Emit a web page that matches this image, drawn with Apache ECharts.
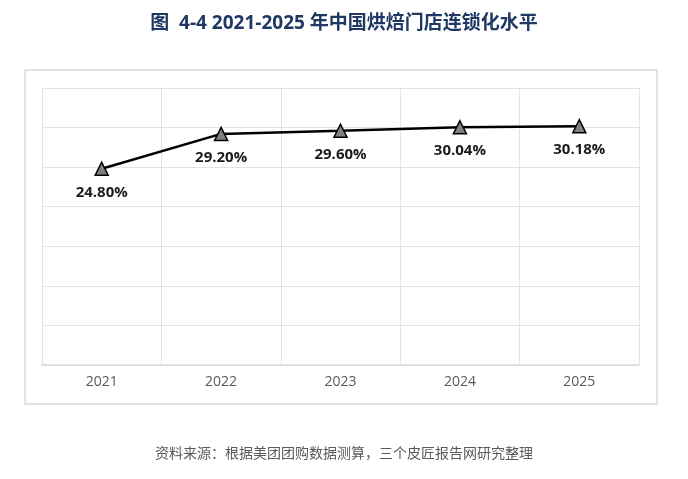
<!DOCTYPE html>
<html><head><meta charset="utf-8">
<script src="https://cdn.jsdelivr.net/npm/echarts@6/dist/echarts.min.js"></script>
<style>html,body{margin:0;padding:0;background:#fff}#c{width:688px;height:479px}</style>
</head><body><div id="c"></div>
<script>
const title = '图  4-4 2021-2025 年中国烘焙门店连锁化水平';
const source = '资料来源：根据美团团购数据测算，三个皮匠报告网研究整理';
const years = ['2021', '2022', '2023', '2024', '2025'];
const chainRate = [24.80, 29.20, 29.60, 30.04, 30.18];
const yMin = 0, yMax = 35, yStep = 5;

const chart = echarts.init(document.getElementById('c'));
chart.setOption({
  animation: false,
  title: {
    text: title, left: 'center', top: 9,
    textStyle: {fontFamily: '"Open Sans", "Noto Sans CJK SC"', fontSize: 19, fontWeight: 'bold', color: '#1f3864'}
  },
  graphic: [
    {type: 'rect', z: -10, shape: {x: 25, y: 70, width: 632, height: 334},
     style: {fill: '#fff', stroke: '#d9d9d9', lineWidth: 1.5}},
    {type: 'text', left: 'center', top: 446,
     style: {text: source, fontFamily: 'Noto Sans CJK SC', fontSize: 14, fill: '#595959'}}
  ],
  grid: {left: 42, right: 49, top: 88, bottom: 114, containLabel: false},
  xAxis: {
    type: 'category', data: years, boundaryGap: true,
    axisLine: {lineStyle: {color: '#d9d9d9', width: 1.5}},
    axisTick: {show: false},
    splitLine: {show: true, lineStyle: {color: '#e3e3e3'}},
    axisLabel: {fontFamily: '"Open Sans"', fontSize: 14, color: '#595959', margin: 10}
  },
  yAxis: {
    type: 'value', min: yMin, max: yMax, interval: yStep,
    axisLine: {show: false}, axisTick: {show: false}, axisLabel: {show: false},
    splitLine: {lineStyle: {color: '#e3e3e3'}}
  },
  series: [{
    type: 'line', data: chainRate,
    symbol: 'triangle', symbolSize: 13,
    itemStyle: {color: '#808080', borderColor: '#000', borderWidth: 1.5},
    lineStyle: {color: '#000', width: 2.5},
    label: {
      show: true, position: 'bottom', distance: 9,
      formatter: p => p.value.toFixed(2) + '%',
      fontFamily: '"Open Sans"', fontSize: 15, fontWeight: 'bold', color: '#1a1a1a'
    }
  }]
});
</script></body></html>
